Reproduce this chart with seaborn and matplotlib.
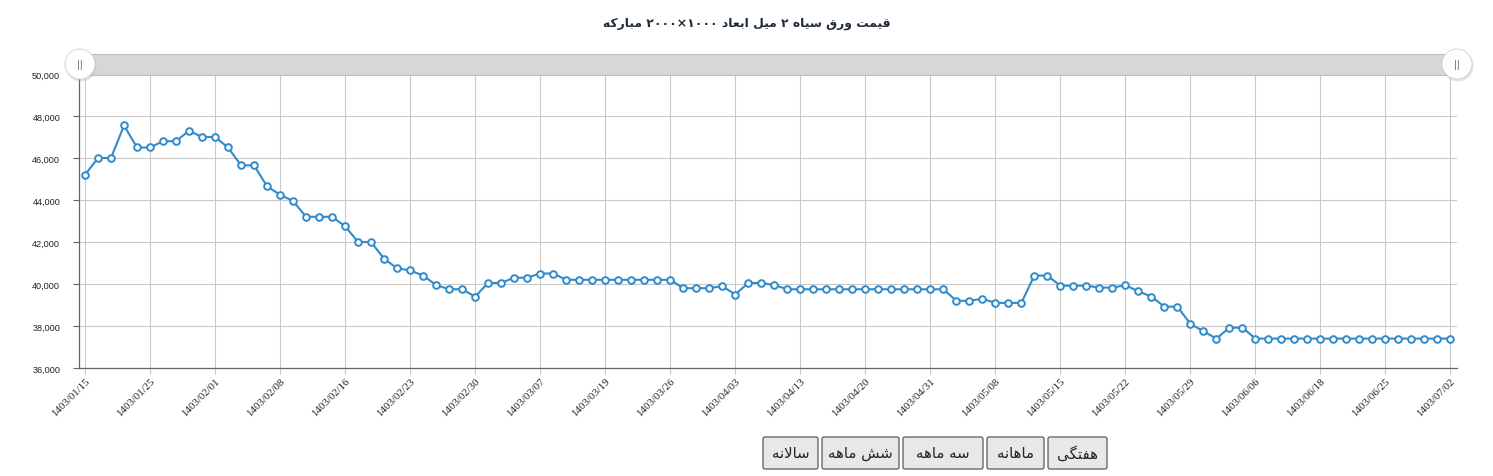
import re
import numpy as np
import pandas as pd
import matplotlib
matplotlib.use("Agg")
import matplotlib.pyplot as plt
from matplotlib.patches import Rectangle, Circle, FancyBboxPatch
import seaborn as sns

# ---------------- data ----------------
TITLE = "قیمت ورق سیاه ۲ میل ابعاد ۱۰۰۰×۲۰۰۰ مبارکه"
BUTTONS = ["هفتگی", "ماهانه", "سه ماهه", "شش ماهه", "سالانه"]  # right to left

TICK_LABELS = [
    "1403/01/15", "1403/01/25", "1403/02/01", "1403/02/08", "1403/02/16",
    "1403/02/23", "1403/02/30", "1403/03/07", "1403/03/19", "1403/03/26",
    "1403/04/03", "1403/04/13", "1403/04/20", "1403/04/31", "1403/05/08",
    "1403/05/15", "1403/05/22", "1403/05/29", "1403/06/06", "1403/06/18",
    "1403/06/25", "1403/07/02",
]
TICK_EVERY = 5

PRICES = [
    45200, 46000, 46000, 47550, 46500, 46500, 46800, 46800, 47300, 47000,
    47000, 46500, 45650, 45650, 44650, 44250, 43950, 43200, 43200, 43200,
    42750, 42000, 42000, 41200, 40750, 40650, 40400, 39950, 39750, 39750,
    39400, 40050, 40050, 40300, 40300, 40500, 40500, 40200, 40200, 40200,
    40200, 40200, 40200, 40200, 40200, 40200, 39800, 39800, 39800, 39900,
    39500, 40050, 40050, 39950, 39750, 39750, 39750, 39750, 39750, 39750,
    39750, 39750, 39750, 39750, 39750, 39750, 39750, 39200, 39200, 39300,
    39100, 39100, 39100, 40400, 40400, 39920, 39920, 39920, 39830, 39830,
    39940, 39650, 39400, 38920, 38920, 38100, 37750, 37400, 37920, 37920,
    37400, 37400, 37400, 37400, 37400, 37400, 37400, 37400, 37400, 37400,
    37400, 37400, 37400, 37400, 37400, 37400,
]
Y_MIN, Y_MAX, Y_STEP = 36000, 50000, 2000

# ---------------- Persian shaping (visual order for matplotlib) ----------------
_FORMS = {
    'ا': ('\ufe8d', '\ufe8e', None, None),
    'ب': ('\ufe8f', '\ufe90', '\ufe91', '\ufe92'),
    'ت': ('\ufe95', '\ufe96', '\ufe97', '\ufe98'),
    'د': ('\ufea9', '\ufeaa', None, None),
    'ر': ('\ufead', '\ufeae', None, None),
    'س': ('\ufeb1', '\ufeb2', '\ufeb3', '\ufeb4'),
    'ش': ('\ufeb5', '\ufeb6', '\ufeb7', '\ufeb8'),
    'ع': ('\ufec9', '\ufeca', '\ufecb', '\ufecc'),
    'ف': ('\ufed1', '\ufed2', '\ufed3', '\ufed4'),
    'ق': ('\ufed5', '\ufed6', '\ufed7', '\ufed8'),
    'ل': ('\ufedd', '\ufede', '\ufedf', '\ufee0'),
    'م': ('\ufee1', '\ufee2', '\ufee3', '\ufee4'),
    'ن': ('\ufee5', '\ufee6', '\ufee7', '\ufee8'),
    'ه': ('\ufee9', '\ufeea', '\ufeeb', '\ufeec'),
    'و': ('\ufeed', '\ufeee', None, None),
    'ی': ('\ufbfc', '\ufbfd', '\ufbfe', '\ufbff'),
    'ک': ('\ufb8e', '\ufb8f', '\ufb90', '\ufb91'),
    'گ': ('\ufb92', '\ufb93', '\ufb94', '\ufb95'),
}
_LAM_ALEF = ('\ufefb', '\ufefc')


def _shape(word):
    out, i, n, prev = [], 0, len(word), False
    while i < n:
        c = word[i]
        if c == 'ل' and i + 1 < n and word[i + 1] == 'ا':
            out.append(_LAM_ALEF[1] if prev else _LAM_ALEF[0])
            prev = False
            i += 2
            continue
        if c not in _FORMS:
            out.append(c)
            prev = False
            i += 1
            continue
        iso, fin, ini, med = _FORMS[c]
        nxt = word[i + 1] if i + 1 < n else None
        joins = ini is not None and nxt in _FORMS
        out.append(med if (prev and joins) else fin if prev else ini if joins else iso)
        prev = joins
        i += 1
    return ''.join(out)


def rtl(text):
    words = []
    for tok in reversed(text.split(' ')):
        runs = re.findall(r'[0-9\u06f0-\u06f9]+|[^0-9\u06f0-\u06f9]+', tok)
        vis = []
        for r in reversed(runs):
            if re.match(r'[0-9\u06f0-\u06f9]', r):
                vis.append(r)
            else:
                vis.append(_shape(r)[::-1])
        words.append(''.join(vis))
    return ' '.join(words)


# ---------------- figure ----------------
W, H = 1493, 477
sns.set_style("white")
plt.rcParams['font.family'] = ['DejaVu Sans']

fig = plt.figure(figsize=(W / 100, H / 100), dpi=100)


def frect(l, t, r, b):
    return [l / W, 1 - b / H, (r - l) / W, (b - t) / H]


ax = fig.add_axes(frect(79, 75, 1457, 369))
df = pd.DataFrame({"idx": np.arange(len(PRICES)), "price": PRICES})
line_color = "#318bcb"
sns.lineplot(data=df, x="idx", y="price", ax=ax, color=line_color, linewidth=1.5,
             marker="o", markersize=4.8, markerfacecolor="white",
             markeredgecolor=line_color, markeredgewidth=1.4, zorder=5)

ax.set_xlim(-0.46, len(PRICES) - 1 + 0.5)
ax.set_ylim(Y_MIN, Y_MAX)
ax.set_xlabel("")
ax.set_ylabel("")

xt = np.arange(0, len(PRICES), TICK_EVERY)
ax.set_xticks(xt)
ax.set_xticklabels(TICK_LABELS[:len(xt)], rotation=45, ha="right",
                   rotation_mode="anchor", fontsize=7.8, family="Liberation Serif",
                   color="#222222")
yt = np.arange(Y_MIN, Y_MAX + 1, Y_STEP)
ax.set_yticks(yt)
ax.set_yticklabels([f"{v:,}" for v in yt], fontsize=6.6, family="Liberation Sans",
                   color="#222222")

ax.grid(True, color="#c9c9c9", linewidth=0.8)
ax.set_axisbelow(True)
for s in ["top", "right"]:
    ax.spines[s].set_visible(False)
ax.spines["left"].set_color("#666666")
ax.spines["bottom"].set_color("#666666")
ax.spines["left"].set_linewidth(0.9)
ax.spines["bottom"].set_linewidth(0.9)
ax.tick_params(axis="y", length=4.5, width=0.8, color="#666666", pad=9, left=True)
ax.tick_params(axis="x", length=4.0, width=0.8, color="#c9c9c9", pad=2, bottom=True)

# ---------------- overlay (pixel space) ----------------
ov = fig.add_axes([0, 0, 1, 1], zorder=10)
ov.set_xlim(0, W)
ov.set_ylim(H, 0)
ov.axis("off")
ov.patch.set_alpha(0)

ov.text(747, 23, rtl(TITLE), ha="center", va="center", fontsize=8.9,
        fontweight="bold", color="#1f2b3c")

# range slider bar
ov.add_patch(Rectangle((80, 55), 1377, 20.5, facecolor="#d7d7d7",
                       edgecolor="#bdbdbd", linewidth=0.8))
for cx in (80, 1457):
    ov.add_patch(Circle((cx + 1, 67), 15.5, facecolor="#b0b0b0", edgecolor="none", alpha=0.35))
    ov.add_patch(Circle((cx, 65), 15, facecolor="white", edgecolor="#d0d0d0", linewidth=0.6))
    ov.text(cx, 65.5, "||", ha="center", va="center", fontsize=8, color="#777777",
            family="Liberation Sans")

# period buttons (right to left)
btn_boxes = [(1048, 1107), (987, 1044), (903, 983), (822, 899), (763, 818)]
for label, (l, r) in zip(BUTTONS, btn_boxes):
    ov.add_patch(FancyBboxPatch((l, 438), r - l, 32,
                                boxstyle="round,pad=0,rounding_size=2",
                                facecolor="#e8e8e8", edgecolor="#5a5a5a", linewidth=0.9))
    ov.text((l + r) / 2, 454, rtl(label), ha="center", va="center",
            fontsize=10.8, color="#222222")

fig.savefig("out.png", dpi=100)
